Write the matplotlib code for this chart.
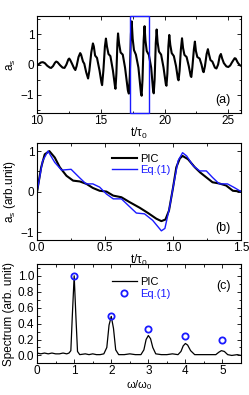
import matplotlib
matplotlib.use("Agg")
import matplotlib.pyplot as plt
from matplotlib.ticker import MultipleLocator, FormatStrFormatter
from matplotlib.patches import Rectangle

plt.rcParams['font.family'] = ['Liberation Sans', 'DejaVu Sans']
plt.rcParams['font.size'] = 8.5
plt.rcParams['mathtext.fontset'] = 'custom'
plt.rcParams['mathtext.rm'] = 'Liberation Sans'
plt.rcParams['mathtext.it'] = 'Liberation Sans:italic'

BLUE = '#1a1aff'

# ---------------- data ----------------
# panel (a): PIC signal a_s vs t/tau0
t_a = [10.0, 10.15, 10.3, 10.45, 10.6, 10.8, 11.0, 11.1, 11.25, 11.4, 11.5, 11.6,
       11.8, 12.0, 12.15, 12.3, 12.45, 12.52, 12.6, 12.75, 12.9, 13.0, 13.1, 13.25,
       13.38, 13.45, 13.6, 13.7, 13.85, 14.0, 14.1, 14.25, 14.38, 14.45, 14.55, 14.7,
       14.9, 15.05, 15.1, 15.2, 15.32, 15.4, 15.48, 15.6, 15.75, 15.95, 16.12, 16.15,
       16.22, 16.3, 16.35, 16.43, 16.55, 16.72, 16.9, 17.12, 17.2, 17.27, 17.36, 17.42,
       17.5, 17.6, 17.75, 17.95, 18.15, 18.2, 18.27, 18.36, 18.43, 18.5, 18.6, 18.77,
       18.95, 19.1, 19.15, 19.22, 19.31, 19.38, 19.45, 19.56, 19.73, 19.92, 20.1, 20.15,
       20.22, 20.3, 20.37, 20.45, 20.56, 20.73, 20.9, 21.05, 21.1, 21.18, 21.28, 21.37,
       21.45, 21.56, 21.73, 21.9, 22.05, 22.1, 22.18, 22.3, 22.38, 22.46, 22.57, 22.75,
       22.9, 23.02, 23.07, 23.17, 23.3, 23.4, 23.48, 23.6, 23.75, 23.95, 24.07, 24.2,
       24.33, 24.42, 24.52, 24.65, 24.85, 25.0, 25.15, 25.3, 25.5, 25.58, 25.75, 25.9,
       26.0]
a_a = [-0.03, 0.02, 0.07, 0.08, 0.05, -0.04, -0.1, -0.11, -0.05, 0.06, 0.1, 0.08,
       -0.02, -0.1, -0.11, 0.0, 0.17, 0.2, 0.15, 0.02, -0.12, -0.18, -0.05, 0.25,
       0.38, 0.33, 0.1, 0.03, -0.25, -0.46, -0.2, 0.4, 0.7, 0.6, 0.3, 0.22,
       -0.2, -0.6, -0.68, -0.2, 0.6, 0.86, 0.6, 0.35, 0.28, -0.2, -0.75, -0.8,
       -0.3, 0.7, 1.03, 0.7, 0.4, 0.33, -0.1, -0.85, -0.96, -0.4, 1.0, 1.43,
       0.85, 0.48, 0.33, -0.1, -0.95, -1.03, -0.5, 0.8, 1.27, 0.8, 0.45, 0.32,
       -0.1, -0.85, -0.95, -0.5, 0.7, 1.16, 0.75, 0.43, 0.33, -0.1, -0.65, -0.7,
       -0.3, 0.6, 0.98, 0.65, 0.38, 0.28, -0.05, -0.48, -0.52, -0.2, 0.5, 0.87,
       0.55, 0.32, 0.25, -0.05, -0.38, -0.41, -0.1, 0.5, 0.76, 0.45, 0.25, 0.2,
       0.0, -0.23, -0.25, -0.05, 0.35, 0.51, 0.35, 0.15, 0.1, -0.1, -0.13, 0.0,
       0.28, 0.35, 0.2, 0.05, -0.06, -0.08, -0.03, 0.08, 0.21, 0.2, 0.06, -0.02,
       -0.04]
window_a = [17.3, 18.76]

# panel (b): PIC
t_b_pic = [0.0, 0.03, 0.056, 0.09, 0.13, 0.167, 0.216, 0.265, 0.314, 0.363, 0.41,
           0.46, 0.51, 0.56, 0.62, 0.68, 0.755, 0.816, 0.877, 0.914, 0.944, 0.97,
           1.0, 1.024, 1.05, 1.07, 1.11, 1.16, 1.2, 1.245, 1.29, 1.34, 1.39, 1.44, 1.5]
a_b_pic = [0.0, 0.6, 0.92, 1.0, 0.84, 0.6, 0.39, 0.27, 0.25, 0.19, 0.09,
           0.02, 0.0, -0.1, -0.14, -0.26, -0.4, -0.53, -0.67, -0.73, -0.69, -0.47,
           0.1, 0.6, 0.82, 0.88, 0.8, 0.6, 0.47, 0.35, 0.23, 0.2, 0.15, 0.02, 0.0]
# panel (b): Eq.(1)
t_b_eq = [0.0, 0.04, 0.08, 0.13, 0.18, 0.25, 0.31, 0.36, 0.41, 0.46, 0.51, 0.56,
          0.62, 0.67, 0.73, 0.79, 0.85, 0.914, 0.94, 0.975, 1.0, 1.037, 1.07, 1.1,
          1.147, 1.196, 1.245, 1.29, 1.34, 1.4, 1.45, 1.5]
a_b_eq = [0.0, 0.75, 1.0, 0.72, 0.53, 0.55, 0.35, 0.19, 0.19, 0.11, -0.06, -0.18,
          -0.18, -0.34, -0.53, -0.55, -0.71, -0.97, -0.91, -0.38, 0.1, 0.76, 0.96, 0.88,
          0.64, 0.51, 0.51, 0.35, 0.19, 0.19, 0.1, 0.0]

# panel (c): spectrum
w_pic = [0.0, 0.1, 0.2, 0.3, 0.4, 0.5, 0.6, 0.7, 0.8, 0.86, 0.91, 0.95, 1.0, 1.05,
         1.09, 1.15, 1.3, 1.4, 1.5, 1.6, 1.7, 1.8, 1.88, 1.94, 2.0, 2.06, 2.12,
         2.2, 2.35, 2.5, 2.65, 2.8, 2.88, 2.94, 3.0, 3.06, 3.12, 3.2, 3.35, 3.5,
         3.65, 3.8, 3.88, 3.94, 4.0, 4.06, 4.14, 4.25, 4.4, 4.55, 4.7, 4.82, 4.9,
         4.97, 5.05, 5.14, 5.25, 5.4, 5.5]
s_pic = [0.03, 0.02, 0.03, 0.02, 0.03, 0.02, 0.02, 0.03, 0.02, 0.03, 0.06, 0.5, 1.0, 0.45,
         0.05, 0.01, 0.02, 0.01, 0.02, 0.01, 0.01, 0.02, 0.1, 0.38, 0.49, 0.34, 0.07,
         0.01, 0.01, 0.02, 0.01, 0.01, 0.07, 0.2, 0.25, 0.21, 0.1, 0.02, 0.01, 0.01,
         0.02, 0.01, 0.05, 0.12, 0.15, 0.13, 0.06, 0.01, 0.01, 0.01, 0.01, 0.01, 0.04,
         0.06, 0.05, 0.01, 0.0, 0.01, 0.0]
w_eq = [1, 2, 3, 4, 5]
s_eq = [1.0, 0.5, 0.333, 0.25, 0.2]

# ---------------- figure ----------------
fig = plt.figure(figsize=(2.49, 3.95), dpi=100)
L, R = 0.149, 0.968
axa = fig.add_axes([L, 0.714, R - L, 0.959 - 0.714])
axb = fig.add_axes([L, 0.392, R - L, 0.638 - 0.392])
axc = fig.add_axes([L, 0.080, R - L, 0.332 - 0.080])

def style(ax, xmaj, ymaj):
    ax.xaxis.set_major_locator(MultipleLocator(xmaj))
    ax.xaxis.set_minor_locator(MultipleLocator(xmaj / 2))
    ax.yaxis.set_major_locator(MultipleLocator(ymaj))
    ax.yaxis.set_minor_locator(MultipleLocator(ymaj / 2))
    ax.tick_params(which='both', direction='in', top=True, right=True, width=0.6, pad=2)
    ax.tick_params(axis='x', which='both', pad=1.5)
    ax.tick_params(which='major', length=3)
    ax.tick_params(which='minor', length=1.8)
    for s in ax.spines.values():
        s.set_linewidth(0.8)

# (a)
axa.plot(t_a, a_a, color='black', lw=1.5, solid_joinstyle='round')
axa.add_patch(Rectangle((window_a[0], -1.6), window_a[1] - window_a[0], 3.2,
                        fill=False, ec=BLUE, lw=1.0, zorder=5, clip_on=False))
axa.set_xlim(10, 26)
axa.set_ylim(-1.6, 1.6)
style(axa, 5, 1)
axa.set_xlabel(r'$\mathrm{t/\tau_0}$', labelpad=-1)
axa.set_ylabel(r'$\mathrm{a_s}$', labelpad=2)
axa.text(0.95, 0.13, '(a)', transform=axa.transAxes, ha='right', va='center', fontsize=9)

# (b)
axb.plot(t_b_pic, a_b_pic, color='black', lw=1.5, label='PIC', solid_joinstyle='round')
axb.plot(t_b_eq, a_b_eq, color=BLUE, lw=1.0, label='Eq.(1)', solid_joinstyle='round')
axb.set_xlim(0, 1.5)
axb.set_ylim(-1.2, 1.2)
style(axb, 0.5, 1)
axb.set_xlabel(r'$\mathrm{t/\tau_0}$', labelpad=-1)
axb.set_ylabel(r'$\mathrm{a_s}$ (arb.unit)', labelpad=2)
axb.text(0.95, 0.13, '(b)', transform=axb.transAxes, ha='right', va='center', fontsize=9)
legb = axb.legend(loc='upper left', bbox_to_anchor=(0.33, 0.97), frameon=False,
                  handlelength=2.2, handletextpad=0.3, labelspacing=0.1, borderpad=0.2,
                  fontsize=8)
for txt, c in zip(legb.get_texts(), ['black', BLUE]):
    txt.set_color(c)

# (c)
axc.plot(w_pic, s_pic, color='black', lw=0.9, label='PIC')
axc.plot(w_eq, s_eq, linestyle='none', marker='o', ms=4.5, mfc='none', mec=BLUE,
         mew=1.3, label='Eq.(1)')
axc.set_xlim(0, 5.5)
axc.set_ylim(-0.1, 1.15)
style(axc, 1, 0.2)
axc.set_yticks([0.0, 0.2, 0.4, 0.6, 0.8, 1.0])
axc.yaxis.set_major_formatter(FormatStrFormatter('%.1f'))
axc.set_xlabel(r'$\mathrm{\omega/\omega_0}$', labelpad=0.5, fontsize=8)
axc.set_ylabel('Spectrum (arb. unit)', labelpad=2)
axc.text(0.95, 0.78, '(c)', transform=axc.transAxes, ha='right', va='center', fontsize=9)
legc = axc.legend(loc='upper left', bbox_to_anchor=(0.33, 0.95), frameon=False,
                  handlelength=2.2, handletextpad=0.3, labelspacing=0.2, borderpad=0.2,
                  fontsize=8)
for txt, c in zip(legc.get_texts(), ['black', BLUE]):
    txt.set_color(c)

fig.savefig('out.png', dpi=100)
